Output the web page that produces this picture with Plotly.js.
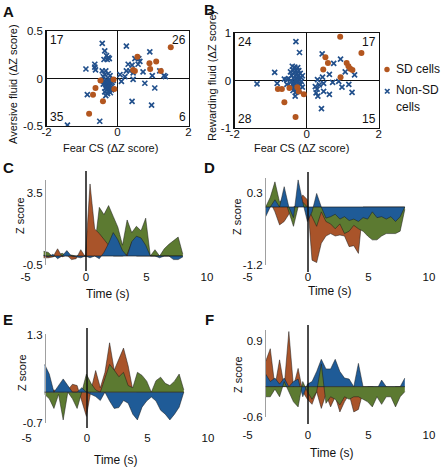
<!DOCTYPE html>
<html><head><meta charset="utf-8">
<script src="https://cdn.plot.ly/plotly-3.0.1.min.js"></script>
<style>html,body{margin:0;padding:0;background:#fff}#chart{width:441px;height:469px}</style>
</head><body><div id="chart"></div>
<script>
// ---------- Panel A: Fear CS vs Aversive fluid ----------
const aSdX = [1.50, 0.56, 1.09, 0.90, 0.92, 0.44, 0.49, 1.22, -0.48, -0.11, -0.09, -0.62, -0.69, -0.41, -0.80];
const aSdY = [0.33, 0.23, 0.18, 0.16, 0.10, 0.09, 0.08, 0.08, -0.02, -0.01, -0.11, -0.10, -0.17, -0.24, -0.37];
const aNonX = [-0.43,-0.36,-0.31,-0.26,-0.38,-0.29,-0.23,-0.89,-0.64,-0.64,-0.62,-0.43,-0.33,-0.36,-0.26,-0.21,-0.40,
  0.25,0.91,0.49,0.60,0.63,0.58,0.30,0.41,0.25,0.35,0.44,0.72,0.98,1.19,1.31,1.35,0.07,0.21,
  0.44,0.77,1.05,0.41,0.96,0.11,
  -0.85,-0.50,-1.41,-0.30,-0.25,-0.35,-0.20,-0.28,-0.32,-0.22,-0.38,-0.15,-0.26,-0.30,-0.34,-0.18,-0.24,-0.36,-0.28,-0.40,-0.12,-0.20,-0.33,-0.42,-0.23,-0.27,-0.31,-0.17];
const aNonY = [0.37,0.29,0.24,0.22,0.20,0.20,0.21,0.10,0.15,0.12,0.09,0.08,0.08,0.04,0.05,0.03,0.02,
  0.34,0.28,0.21,0.21,0.18,0.15,0.15,0.14,0.08,0.08,0.06,0.07,0.03,0.08,0.03,0.02,0.04,0.02,
  -0.01,-0.05,-0.10,-0.24,-0.28,-0.03,
  -0.17,-0.45,-0.49,-0.02,-0.03,-0.04,-0.05,-0.06,-0.07,-0.08,-0.03,-0.04,-0.10,-0.12,-0.10,-0.09,-0.13,-0.14,-0.16,-0.06,-0.02,-0.15,-0.18,-0.02,-0.01,-0.04,-0.09,-0.12];
const aCounts = ["17", "26", "35", "6"];

// ---------- Panel B: Fear CS vs Rewarding fluid ----------
const bSdX = [0.93, 1.52, 0.52, 0.59, 0.46, 1.11, 1.16, 1.21, 1.27, 0.94, -0.80, -0.69, -0.48, -0.26, -0.22, -0.08, -0.62, -0.31];
const bSdY = [0.92, 0.58, 0.49, 0.37, 0.23, 0.37, 0.30, 0.25, 0.22, 0.07, -0.18, -0.18, -0.16, -0.14, -0.23, -0.29, -0.46, -0.77];
const bNonX = [-0.30,-0.20,-0.89,-0.40,-0.33,-0.25,-0.38,-0.30,-0.22,-0.35,-0.27,-0.18,-0.42,-0.31,-0.24,-0.16,-0.37,-0.28,-0.20,-0.50,-0.12,-0.45,-0.55,-0.62,
  0.43,0.75,0.94,0.63,0.44,1.33,1.07,0.30,
  0.24,0.29,0.26,0.31,0.47,0.63,0.72,0.98,1.17,1.26,0.41,0.47,0.89,0.35,
  -1.38,-0.82,-0.42,-0.35,-0.28,-0.22,-0.38,-0.31,-0.25,-0.18,-0.34,-0.27,-0.20,-0.30,-0.32,-0.15,-0.45,-0.12,-0.55,-0.38];
const bNonY = [0.82,0.59,0.17,0.30,0.28,0.27,0.22,0.20,0.21,0.16,0.14,0.15,0.11,0.09,0.08,0.06,0.05,0.03,0.02,0.04,0.10,0.18,0.02,0.03,
  0.56,0.36,0.45,0.13,0.07,0.12,0.18,0.02,
  -0.13,-0.18,-0.26,-0.33,-0.23,-0.29,-0.04,-0.14,-0.08,-0.25,-0.59,-0.06,-0.02,-0.09,
  -0.07,-0.06,-0.02,-0.04,-0.03,-0.05,-0.09,-0.10,-0.12,-0.08,-0.15,-0.18,-0.20,-0.25,-0.33,-0.02,-0.12,-0.14,-0.08,-0.21];
const bCounts = ["24", "17", "28", "15"];

// ---------- Panels C-F: population Z score time courses ----------
const time = Array.from({length: 31}, (_, k) => -3.5 + k * 11.5 / 30);
const cOrange = [-0.1,-0.1,-0.05,0.4,-0.05,0.05,-0.2,-0.15,0.35,-0.05,4.0,1.5,1.25,0.9,0.6,0,0,0,0.1,0.75,0,0,0,0,0,0,0,0,0,0,0];
const cGreen  = [0.26,0.2,-0.05,0.05,0.15,0,0.05,0,0.05,0,-0.05,0.5,2.7,2.3,2.8,2.2,1.6,0.6,2.0,1.3,1.65,1.4,2.1,0,0.35,0,0.4,0.65,0.85,1.05,0.1];
const cBlue   = [0.05,-0.05,0.1,-0.15,0,0.3,0,-0.05,-0.1,0,-0.1,0,-0.15,0.2,0.7,1.3,0.9,0.3,0,0.8,1.1,1.0,0.6,0,0,-0.1,0,0,-0.2,-0.2,-0.05];
const dOrange = [0,0.1,-0.1,-0.37,-0.3,-0.15,0,0.05,0.25,0.15,-1.1,-1.15,-0.75,-0.6,-0.55,-0.6,-0.58,-0.6,-0.82,-0.8,-0.96,0,0,0,0,0,0,0,0,0,0];
const dGreen  = [0,0.2,0.52,0.1,0.2,-0.1,-0.4,0,0.1,0,-0.2,-0.4,-0.1,-0.3,-0.35,-0.45,-0.35,-0.55,-0.5,-0.38,-0.45,-0.5,-0.6,-0.68,-0.68,-0.6,-0.55,-0.55,-0.55,-0.5,-0.05];
const dBlue   = [-0.2,0,0.15,0,0.42,0,-0.22,0.56,0.1,-0.3,-0.1,0.28,0,-0.23,-0.2,-0.15,-0.25,-0.2,-0.28,-0.25,-0.3,-0.22,-0.25,-0.1,-0.22,-0.2,-0.25,-0.2,-0.3,-0.2,0];
const eOrange = [0,0,0.05,0,0,0.05,0.18,0.15,-0.2,-0.55,0.05,0.49,0.1,0.45,1.12,0.5,0.75,1.0,0.6,0.05,0,0,0,0,0,0,0,0,0,0,0];
const eGreen  = [-0.05,-0.15,-0.37,-0.05,-0.63,0,-0.15,-0.37,0,0.41,0.2,0.05,0,0.3,0.63,0.5,0.35,0.45,0.15,0.1,0.45,0.38,0.25,0,0.26,0.34,0.2,0.15,0.25,0.41,0.05];
const eBlue   = [0.63,0.41,0,0.15,0.3,0.15,0,0,0.1,0,-0.05,-0.1,-0.19,0,-0.2,-0.37,-0.35,-0.19,-0.25,-0.5,-0.63,-0.34,-0.2,-0.11,-0.2,-0.41,-0.5,-0.63,-0.5,-0.34,0];
const fOrange = [0.5,0.75,0,0.53,0,1.09,0,0.36,-0.1,-0.25,-0.35,-0.1,-0.43,-0.15,-0.4,-0.2,-0.5,-0.3,-0.15,-0.5,-0.45,-0.1,0,0,0,0,0,0,0,0,0];
const fBlue   = [0.25,0.1,0.17,0.05,0.17,0,0.1,0.15,-0.2,0.05,0.1,0.3,0.54,0.35,0.35,0.54,0.3,0.17,0.15,0,0.46,0,0,0,-0.05,0.13,0,-0.15,0,0,0.17];
const fGreen  = [-0.2,-0.2,-0.05,-0.2,0.1,-0.1,-0.3,-0.4,0.1,-0.1,-0.25,-0.1,0.45,-0.33,-0.2,-0.25,-0.36,-0.2,-0.25,-0.2,-0.2,-0.25,-0.3,-0.4,-0.2,-0.35,-0.2,-0.2,-0.4,-0.2,-0.1];

// tick labels
const scatterXTicks = [-2, 0, 2];
const aYTicks = [-0.5, 0, 0.5];
const bYTicks = [-1, 0, 1];
const timeTicks = [-5, 0, 5, 10];
const cYTicks = [-0.5, 3.5];
const dYTicks = [-1.2, 0.3];
const eYTicks = [-0.7, 1.3];
const fYTicks = [-0.6, 0.9];

// ---------- styling ----------
const W = 441, H = 469;
const PX = v => v / W, PY = v => 1 - v / H;
const FONT = 'Liberation Sans, Arial, Helvetica, sans-serif';
const SD_COL = '#B3561F', NON_COL = '#22508C';
const OR = '#A9542A', GR = '#5C7A31', BL = '#1F5B97';
const lab = v => String(v);

const traces = [];
function sd(x, y, xa, ya) {
  traces.push({type:'scatter', mode:'markers', x:x, y:y, xaxis:xa, yaxis:ya, hoverinfo:'skip', showlegend:false,
    marker:{symbol:'circle', size:6, color:SD_COL}});
}
function nonsd(x, y, xa, ya) {
  traces.push({type:'scatter', mode:'markers', x:x, y:y, xaxis:xa, yaxis:ya, hoverinfo:'skip', showlegend:false,
    marker:{symbol:'x-thin', size:5, color:NON_COL, line:{width:1.7, color:NON_COL}}});
}
nonsd(aNonX, aNonY, 'x', 'y');
sd(aSdX, aSdY, 'x', 'y');
nonsd(bNonX, bNonY, 'x2', 'y2');
sd(bSdX, bSdY, 'x2', 'y2');

function ts(y, col, xa, ya) {
  traces.push({type:'scatter', mode:'lines', x:time, y:y, xaxis:xa, yaxis:ya, fill:'tozeroy', fillcolor:col,
    line:{color:'rgba(25,25,25,0.85)', width:0.6}, hoverinfo:'skip', showlegend:false});
}
ts(cGreen, GR, 'x3', 'y3'); ts(cOrange, OR, 'x3', 'y3'); ts(cBlue, BL, 'x3', 'y3');
ts(dOrange, OR, 'x4', 'y4'); ts(dGreen, GR, 'x4', 'y4'); ts(dBlue, BL, 'x4', 'y4');
ts(eOrange, OR, 'x5', 'y5'); ts(eGreen, GR, 'x5', 'y5'); ts(eBlue, BL, 'x5', 'y5');
ts(fOrange, OR, 'x6', 'y6'); ts(fBlue, BL, 'x6', 'y6'); ts(fGreen, GR, 'x6', 'y6');

const tickFont = {family:FONT, size:11.5, color:'#111'};
function scatterX(dom, anchor) {
  return {domain:dom, anchor:anchor, range:[-2,2], tickvals:scatterXTicks, ticktext:scatterXTicks.map(lab), ticks:'',
    ticklabelstandoff:-5,
    showline:true, mirror:true, linecolor:'#111', linewidth:1.3, showgrid:false, zeroline:true, zerolinecolor:'#111',
    zerolinewidth:1.3, tickfont:tickFont, fixedrange:true};
}
function scatterY(dom, anchor, rng, tv) {
  return {domain:dom, anchor:anchor, range:rng, tickvals:tv, ticktext:tv.map(lab), ticks:'',
    showline:true, mirror:true, linecolor:'#111', linewidth:1.3, showgrid:false, zeroline:true, zerolinecolor:'#111',
    zerolinewidth:1.3, tickfont:tickFont, fixedrange:true};
}
function timeX(x0px, pos) {
  const slope = 12.1;
  return {domain:[PX(x0px - 5.5*slope), PX(x0px + 10.5*slope)], anchor:'free', position:pos, range:[-5.5,10.5],
    tickvals:timeTicks, ticktext:timeTicks.map(lab), ticks:'', showline:false, showgrid:false, zeroline:false,
    tickfont:tickFont, fixedrange:true};
}
function timeY(topPx, botPx, rng, tv, posPx) {
  return {domain:[PY(botPx), PY(topPx)], anchor:'free', position:PX(posPx), range:rng, tickvals:tv, ticktext:tv.map(lab),
    ticks:'', showline:true, linecolor:'#a0a0a0', linewidth:1.3, showgrid:false, zeroline:false,
    tickfont:tickFont, fixedrange:true};
}

const layout = {
  width:W, height:H, margin:{l:0, r:0, t:0, b:0}, paper_bgcolor:'#fff', plot_bgcolor:'rgba(0,0,0,0)',
  font:{family:FONT, size:11, color:'#111'}, showlegend:false,
  xaxis: scatterX([PX(46.5), PX(188.5)], 'y'),
  yaxis: scatterY([PY(126), PY(31)], 'x', [-0.5, 0.5], aYTicks),
  xaxis2: scatterX([PX(234.7), PX(378.7)], 'y2'),
  yaxis2: scatterY([PY(128), PY(33)], 'x2', [-1, 1], bYTicks),
  xaxis3: timeX(86, PY(268.5)),
  yaxis3: timeY(180, 265, [-0.5, 4.22], cYTicks, 45),
  xaxis4: timeX(308, PY(268.5)),
  yaxis4: timeY(178, 265, [-1.2, 0.6], dYTicks, 265),
  xaxis5: timeX(87, PY(429)),
  yaxis5: timeY(334, 423, [-0.7, 1.32], eYTicks, 45),
  xaxis6: timeX(308, PY(426)),
  yaxis6: timeY(330, 417, [-0.6, 1.12], fYTicks, 265),
  shapes: [], annotations: []
};

// CS onset lines and zero baselines
[['x3',271,171],['x4',272,172],['x5',428,328],['x6',424,325]].forEach(([xa,b,t]) => {
  layout.shapes.push({type:'line', xref:xa, yref:'paper', x0:0, x1:0, y0:PY(b), y1:PY(t), line:{color:'#111', width:1.5}, layer:'above'});
});
[['x3','y3'],['x4','y4'],['x5','y5'],['x6','y6']].forEach(([xa,ya]) => {
  layout.shapes.push({type:'line', xref:xa, yref:ya, x0:time[0], x1:time[time.length-1], y0:0, y1:0, line:{color:'rgba(20,20,20,0.8)', width:0.8}, layer:'above'});
});

// legend symbols
layout.shapes.push({type:'circle', xref:'paper', yref:'paper', x0:PX(384.3), x1:PX(389.7), y0:PY(72.2), y1:PY(66.8), fillcolor:SD_COL, line:{width:0}});
layout.shapes.push({type:'path', xref:'paper', yref:'paper',
  path:`M ${PX(385)} ${PY(89)} L ${PX(389.5)} ${PY(93.5)} M ${PX(385)} ${PY(93.5)} L ${PX(389.5)} ${PY(89)}`,
  line:{color:NON_COL, width:1.7}});

const ann = layout.annotations;
function txt(text, x, y, opts) {
  ann.push(Object.assign({text:text, xref:'paper', yref:'paper', x:PX(x), y:PY(y), showarrow:false,
    xanchor:'center', yanchor:'middle', font:{family:FONT, size:11, color:'#111'}}, opts || {}));
}
// quadrant counts
function counts(arr, xa, ya, yr) {
  const pos = [[-2, yr, 'left', 'top'], [2, yr, 'right', 'top'], [-2, -yr, 'left', 'bottom'], [2, -yr, 'right', 'bottom']];
  arr.forEach((c, i) => ann.push({text:c, xref:xa, yref:ya, x:pos[i][0], y:pos[i][1], xanchor:pos[i][2], yanchor:pos[i][3],
    xshift: pos[i][2]==='left' ? 1 : -1, showarrow:false, font:{family:FONT, size:12, color:'#111'}}));
}
counts(aCounts, 'x', 'y', 0.5);
counts(bCounts, 'x2', 'y2', 1);

// axis titles
txt('Fear CS (ΔZ score)', 110, 148, {font:{family:FONT, size:11, color:'#111'}});
txt('Fear CS (ΔZ score)', 301, 148, {font:{family:FONT, size:11, color:'#111'}});
txt('Aversive fluid (ΔZ score)', 13, 84, {textangle:-90});
txt('Rewarding fluid (ΔZ score)', 212, 76, {textangle:-90});
txt('Z score', 20, 216, {textangle:-90});
txt('Z score', 237, 217, {textangle:-90});
txt('Z score', 22, 373, {textangle:-90});
txt('Z score', 238, 375, {textangle:-90});
txt('Time (s)', 108, 294, {font:{family:FONT, size:12, color:'#111'}});
txt('Time (s)', 330, 291, {font:{family:FONT, size:12, color:'#111'}});
txt('Time (s)', 116, 460, {font:{family:FONT, size:12, color:'#111'}});
txt('Time (s)', 332, 453, {font:{family:FONT, size:12, color:'#111'}});
// legend text
txt('SD cells', 394, 69, {xanchor:'left', font:{family:FONT, size:12, color:'#111'}});
txt('Non-SD', 394, 90, {xanchor:'left', font:{family:FONT, size:12, color:'#111'}});
txt('cells', 394, 107, {xanchor:'left', font:{family:FONT, size:12, color:'#111'}});
// panel letters
[['A',8,11],['B',209,10],['C',8,168],['D',209,168],['E',8,319],['F',209,319]].forEach(([t,x,y]) =>
  txt('<b>' + t + '</b>', x, y, {font:{family:FONT, size:15, color:'#111'}}));

Plotly.newPlot('chart', traces, layout, {staticPlot:true, displayModeBar:false});
</script>
</body></html>
